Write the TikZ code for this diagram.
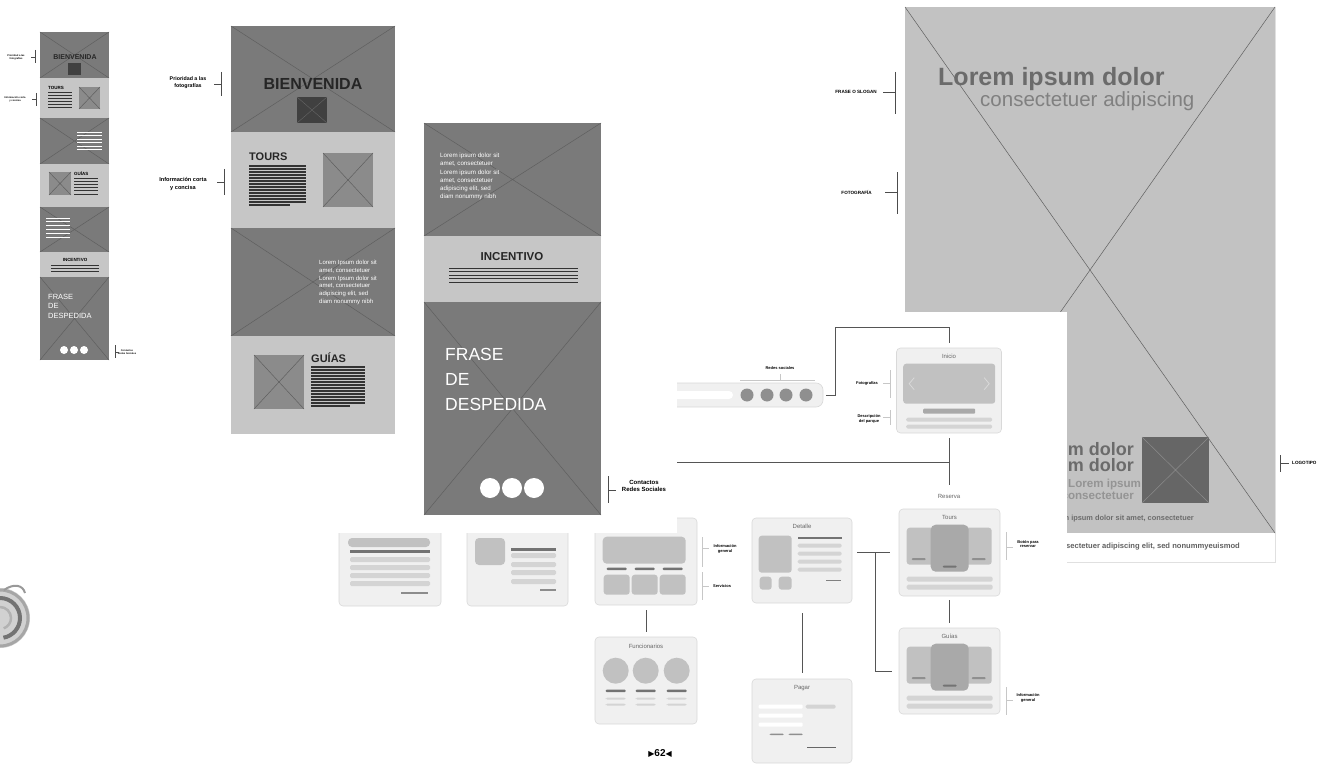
\documentclass[tikz,border=0pt]{standalone}
\usepackage{fontspec}
\setmainfont{Liberation Sans}
\newfontfamily\symfont{DejaVu Sans}
\usepackage{tikz}
\usetikzlibrary{positioning, calc}
\usepackage{xcolor}
\definecolor{mockdark}{HTML}{7A7A7A}
\definecolor{mocklight}{HTML}{C6C6C6}
\definecolor{crossline}{HTML}{5F5F5F}
\definecolor{photo}{HTML}{8B8B8B}
\definecolor{postergray}{HTML}{C2C2C2}
\definecolor{cardfill}{HTML}{F0F0F0}
\definecolor{cardedge}{HTML}{D9D9D9}
\definecolor{barlight}{HTML}{D4D4D4}
\definecolor{bardark}{HTML}{8F8F8F}
\definecolor{panel}{HTML}{C1C1C1}
\definecolor{panelmid}{HTML}{A9A9A9}
\definecolor{linkgray}{HTML}{555555}

\newcommand{\fsz}[2]{\fontsize{#1}{#2}\selectfont}
% placeholder box with a cross
\newcommand{\xbox}[5]{%
  \fill[#1] (#2,#3) rectangle (#4,#5);
  \draw[crossline, line width=0.5pt] (#2,#3) -- (#4,#5) (#2,#5) -- (#4,#3);}

\begin{document}
\begin{tikzpicture}[
    x=1pt, y=-1pt,
    card/.style={draw=cardedge, fill=cardfill, rounded corners=4pt, line width=0.6pt, inner sep=0pt},
    cardtitle/.style={font=\fsz{6}{7}, text=black!60, inner sep=0pt},
    note/.style={font=\bfseries\fsz{4}{4.8}, align=center, inner sep=0pt},
    bracket/.style={draw=black!70, line width=0.6pt},
    sitebracket/.style={draw=black!22, line width=0.5pt},
    link/.style={draw=linkgray, line width=0.8pt},
    textline/.style={draw=black!80, line width=1.2pt},
    bar/.style={fill=barlight, rounded corners=1.5pt},
    darkbar/.style={fill=bardark, rounded corners=1pt},
    tile/.style={fill=panel, rounded corners=3pt},
]
\useasboundingbox (0,0) rectangle (1320,765);
\fill[white] (0,0) rectangle (1320,765);

% Poster
\fill[white] (905,7) rectangle (1275,562);
\draw[black!12] (905,7) rectangle (1275,562);
\xbox{postergray}{905}{7}{1275}{533}
\node[anchor=base west, font=\bfseries\fsz{25}{25}, text=black!58, inner sep=0pt] (slogan) at (938,86) {Lorem ipsum dolor};
\node[anchor=base west, font=\fsz{20.5}{21}, text=black!50, inner sep=0pt] (subslogan) at (980,107) {consectetuer adipiscing};
\node[anchor=base east, font=\bfseries\fsz{18}{18}, text=black!58, inner sep=0pt] (claimA) at (1134,455) {Lorem ipsum dolor};
\node[anchor=base east, font=\bfseries\fsz{18}{18}, text=black!58, inner sep=0pt] (claimB) at (1134,471) {Lorem ipsum dolor};
\node[anchor=base west, font=\bfseries\fsz{11.6}{12}, text=black!42, inner sep=0pt] (claimC) at (1068,487) {Lorem ipsum};
\node[anchor=base east, font=\bfseries\fsz{11.6}{12}, text=black!42, inner sep=0pt] (claimD) at (1134,499) {consectetuer};
\node[anchor=base east, font=\bfseries\fsz{7.4}{8}, text=black!58, inner sep=0pt] (claimE) at (1194,520) {Lorem ipsum dolor sit amet, consectetuer};
\node[anchor=base east, font=\bfseries\fsz{7.6}{8}, text=black!62, inner sep=0pt] (claimF) at (1240,548) {consectetuer adipiscing elit, sed nonummyeuismod};
\fill[black!60] (1142,437) rectangle (1209,503);
\draw[black!45, line width=0.5pt] (1142,437) -- (1209,503) (1142,503) -- (1209,437);

\node[anchor=east, font=\bfseries\fsz{4.6}{5}, inner sep=0pt] (lblslogan) at (877,92) {FRASE O SLOGAN};
\draw[bracket] (895,72) -- (895,114) (883,92) -- (895,92);
\node[anchor=east, font=\bfseries\fsz{4.6}{5}, inner sep=0pt] (lblfoto) at (872,192) {FOTOGRAFÍA};
\draw[bracket] (897,172) -- (897,214) (885,192) -- (897,192);
\node[anchor=west, font=\bfseries\fsz{4.6}{5}, inner sep=0pt] (lbllogo) at (1292,463) {LOGOTIPO};
\draw[bracket] (1280,455) -- (1280,472) (1280,463) -- (1289,463);

% Site map sheet
\fill[white] (880,312) rectangle (1067,568);

\node[card, rounded corners=7pt, minimum width=190pt, minimum height=24pt] (redes) at (728,395) {};
\fill[white, rounded corners=4pt] (640,391) rectangle (733,399);
\foreach \cx in {747,767,786,806} \fill[bardark] (\cx,395) circle[radius=6.5pt];
\node[note] (redesT) at (780,368) {Redes sociales};
\draw[sitebracket] (740,380) -- (815,380) (780,380) -- (780,374);

\node[card, minimum width=105pt, minimum height=85pt] (inicio) at (949,390.5) {};
\node[cardtitle, below=6pt of inicio.north] (inicioT) {Inicio};
\begin{scope}[shift={(inicio.north west)}]
  \fill[tile] (7,16) rectangle (99,56);
  \draw[black!15, line width=0.8pt] (18,30) -- (13,36) -- (18,42) (88,30) -- (93,36) -- (88,42);
  \fill[panelmid, rounded corners=1pt] (27,61) rectangle (79,66);
  \fill[bar] (10,70) rectangle (96,74);
  \fill[bar] (10,77) rectangle (96,81);
\end{scope}
\node[note] (fotosT) at (867,383) {Fotografías};
\draw[sitebracket] (890,370) -- (890,398) (883,383) -- (890,383);
\node[note] (descT) at (869,419) {Descripción\\del parque};
\draw[sitebracket] (890,410) -- (890,425) (883,417) -- (890,417);

\draw[link] ([xshift=3pt]redes.east) -- ++(9,0) |- ([yshift=20pt]inicio.north) -- ([yshift=5pt]inicio.north);

\node[cardtitle] (reserva) at (949,496) {Reserva};
\coordinate (hub) at (949,462);
\coordinate (cutL) at (600,462);
\draw[link] ($(inicio.south)+(0,5)$) -- ($(reserva.north)+(0,-9)$);
\draw[link] (hub) -- (cutL);

% carousel pages
\node[card, minimum width=101pt, minimum height=87pt] (tours) at (949.5,552.5) {};
\node[cardtitle, below=6pt of tours.north] (toursT) {Tours};
\node[card, minimum width=101pt, minimum height=86pt] (guias) at (949.5,671) {};
\node[cardtitle, below=6pt of guias.north] (guiasT) {Guías};
\foreach \pg in {tours,guias}{
  \begin{scope}[shift={(\pg.north west)}]
    \fill[tile] (8,19) rectangle (36,56);
    \fill[tile] (65,19) rectangle (93,56);
    \fill[panelmid, rounded corners=5pt] (32,16) rectangle (70,63);
    \fill[darkbar] (13,49.5) rectangle (27,51.5);
    \fill[darkbar] (73,49.5) rectangle (87,51.5);
    \fill[black!55, rounded corners=1pt] (44,57) rectangle (58,59);
    \fill[bar] (8,68) rectangle (94,73);
    \fill[bar] (8,76) rectangle (94,81);
  \end{scope}
}
\draw[link] ($(tours.south)+(0,4)$) -- ($(guias.north)+(0,-5)$);
\node[note] (botonT) at (1028,544) {Botón para\\reservar};
\draw[sitebracket] (1006,532) -- (1006,560) (1006,547) -- (1013,547);
\node[note] (infoguiasT) at (1028,698) {Información\\general};
\draw[sitebracket] (1006,687) -- (1006,715) (1006,700) -- (1013,700);

% detail and payment
\node[card, minimum width=100pt, minimum height=85pt] (detalle) at (802,560.5) {};
\node[cardtitle, below=6pt of detalle.north] (detalleT) {Detalle};
\begin{scope}[shift={(detalle.north west)}]
  \fill[tile] (7,18) rectangle (40,55);
  \fill[tile] (8,59) rectangle (20,72);
  \fill[tile] (27,59) rectangle (40,72);
  \fill[black!55] (46,19) rectangle (90,21.5);
  \foreach \yy in {26,34,42,50} \fill[bar] (46,\yy) rectangle (90,\yy+4);
  \fill[black!50] (74,62) rectangle (89,63.5);
\end{scope}
\node[card, minimum width=100pt, minimum height=84pt] (pagar) at (802,721) {};
\node[cardtitle, below=6pt of pagar.north] (pagarT) {Pagar};
\begin{scope}[shift={(pagar.north west)}]
  \foreach \yy in {26,35,44} \fill[white, rounded corners=1pt] (7,\yy) rectangle (51,\yy+4);
  \fill[bar] (54,26) rectangle (84,30);
  \fill[darkbar] (18,55) rectangle (32,56.5);
  \fill[darkbar] (37,55) rectangle (51,56.5);
  \fill[black!60] (55,68) rectangle (84,69.5);
\end{scope}
\draw[link] ($(detalle.east |- tours.west)+(5,0)$) -- ($(tours.west)+(-9,0)$);
\draw[link] ($(detalle.east |- tours.west)+(23,0)$) |- ($(guias.west)+(-7,0)$);
\draw[link] ($(detalle.south)+(0,10)$) -- ($(pagar.north)+(0,-6)$);

% park, staff and the two hidden pages
\node[card, minimum width=102pt, minimum height=95pt] (mapa) at (390,558.5) {};
\fill[tile, rounded corners=4pt] (348,538) rectangle (430,547);
\fill[black!55] (350,550) rectangle (430,552.5);
\foreach \yy in {557,565,573,581} \fill[bar] (350,\yy) rectangle (430,\yy+5);
\fill[black!45] (401,592) rectangle (428,594);
\node[card, minimum width=101pt, minimum height=95pt] (contacto) at (517.5,558.5) {};
\fill[tile, rounded corners=4pt] (475,538) rectangle (505,565);
\fill[black!55] (511,548) rectangle (556,550.5);
\foreach \yy in {553,562,570,579} \fill[bar] (511,\yy) rectangle (556,\yy+5);
\fill[black!45] (540,589) rectangle (556,591);

\node[card, minimum width=102pt, minimum height=87pt] (parque) at (646,561.5) {};
\begin{scope}[shift={(parque.north west)}]
  \fill[tile, rounded corners=4pt] (8,19) rectangle (91,46);
  \foreach \xx in {12,40,68} \fill[black!55, rounded corners=1pt] (\xx,50) rectangle (\xx+20,52.5);
  \foreach \xx in {9,37,65} \fill[tile] (\xx,57) rectangle (\xx+26,77);
\end{scope}
\node[note] (infoparqueT) at (725,549) {Información\\general};
\draw[sitebracket] (702,537) -- (702,567) (702,548) -- (709,548);
\node[note, anchor=west] (serviciosT) at (713,586) {Servicios};
\draw[sitebracket] (702,572) -- (702,600) (702,586) -- (709,586);

\node[card, minimum width=102pt, minimum height=87pt] (funcionarios) at (646,680.5) {};
\node[cardtitle, below=7pt of funcionarios.north] (funcionariosT) {Funcionarios};
\begin{scope}[shift={(funcionarios.north west)}]
  \foreach \xx in {21,51,82} {
    \fill[panel] (\xx,34) circle[radius=13pt];
    \fill[black!55, rounded corners=1pt] (\xx-10,53) rectangle (\xx+10,55.5);
    \fill[bar] (\xx-10,61) rectangle (\xx+10,63);
    \fill[bar] (\xx-10,67) rectangle (\xx+10,69);
  }
\end{scope}
\draw[link] ($(parque.south)+(0,5)$) -- ($(funcionarios.north)+(0,-5)$);

\node[font=\bfseries\fsz{10}{10}, inner sep=0pt] (pagina) at (660,753) {{\symfont\fsz{8}{8}▶}62{\symfont\fsz{8}{8}◀}};

% Third screen
\fill[white] (404,100) rectangle (677,533);
\fill[white] (335,508) rectangle (677,533);
\xbox{mockdark}{424}{123}{601}{236}
\fill[mocklight] (424,236) rectangle (601,302);
\xbox{mockdark}{424}{302}{601}{515}
\node[anchor=north west, align=left, text=white, font=\fsz{6.2}{8.2}, inner sep=0pt] (lorem3) at (440,153) {Lorem ipsum dolor sit\\amet, consectetuer\\Lorem ipsum dolor sit\\amet, consectetuer\\adipiscing elit, sed\\diam nonummy nibh};
\node[font=\bfseries\fsz{11.5}{12}, text=black!85, inner sep=0pt] (incentivo3) at (512,257) {INCENTIVO};
\foreach \k in {0,...,4} \draw[textline, line width=1pt] (449,{268+3.5*\k}) -- (578,{268+3.5*\k});
\node[anchor=north west, align=left, text=white, font=\fsz{17.5}{25}, inner sep=0pt] (despedida3) at (445,348) {FRASE\\DE\\DESPEDIDA};
\foreach \cx in {490,512,534} \fill[white] (\cx,488) circle[radius=10pt];
\node[font=\bfseries\fsz{6}{7.2}, align=center, inner sep=0pt] (contactos3) at (644,486) {Contactos\\Redes Sociales};
\draw[bracket] (608,476) -- (608,503) (608,490) -- (616,490);

% Second screen
\xbox{mockdark}{231}{26}{395}{132}
\fill[mocklight] (231,132) rectangle (395,228);
\xbox{mockdark}{231}{228}{395}{336}
\fill[mocklight] (231,336) rectangle (395,434);
\node[font=\bfseries\fsz{16}{16}, text=black!85, inner sep=0pt] (bienvenida2) at (313,84) {BIENVENIDA};
\fill[black!75] (297,97) rectangle (327,123);
\draw[black!60, line width=0.4pt] (297,97) -- (327,123) (297,123) -- (327,97);
\node[anchor=west, font=\bfseries\fsz{11}{11}, text=black!85, inner sep=0pt] (tours2) at (249,157) {TOURS};
\foreach \k in {0,...,12} \draw[textline] (249,{166+3*\k}) -- (306,{166+3*\k});
\draw[textline] (249,205) -- (290,205);
\xbox{photo}{323}{153}{373}{207}
\node[anchor=north west, align=left, text=white, font=\fsz{6}{7.8}, inner sep=0pt] (lorem2) at (319,260) {Lorem Ipsum dolor sit\\amet, consectetuer\\Lorem Ipsum dolor sit\\amet, consectetuer\\adipiscing elit, sed\\diam nonummy nibh};
\xbox{photo}{254}{355}{304}{409}
\node[anchor=west, font=\bfseries\fsz{11}{11}, text=black!85, inner sep=0pt] (guias2) at (311,358) {GUÍAS};
\foreach \k in {0,...,12} \draw[textline] (311,{367+3*\k}) -- (365,{367+3*\k});
\draw[textline] (311,406) -- (350,406);
\node[font=\bfseries\fsz{5.3}{7}, align=center, inner sep=0pt] (prioridad2) at (188,83) {Prioridad a las\\fotografías};
\draw[bracket] (221,72) -- (221,96) (214,84) -- (221,84);
\node[font=\bfseries\fsz{5.6}{7.4}, align=center, inner sep=0pt] (concisa2) at (183,184) {Información corta\\y concisa};
\draw[bracket] (224,169) -- (224,195) (217,182) -- (224,182);

% First screen, small
\xbox{mockdark}{40}{32}{109}{78}
\fill[mocklight] (40,78) rectangle (109,118);
\xbox{mockdark}{40}{118}{109}{164}
\fill[mocklight] (40,164) rectangle (109,207);
\xbox{mockdark}{40}{207}{109}{252}
\fill[mocklight] (40,252) rectangle (109,277);
\xbox{mockdark}{40}{277}{109}{360}
\node[font=\bfseries\fsz{7}{7}, text=black!85, inner sep=0pt] (bienvenida1) at (75,57) {BIENVENIDA};
\fill[black!75] (68,63) rectangle (81,75);
\node[anchor=west, font=\bfseries\fsz{4.5}{5}, inner sep=0pt] (tours1) at (48,88) {TOURS};
\foreach \k in {0,...,5} \draw[textline, line width=0.9pt] (48,{92+3*\k}) -- (72,{92+3*\k});
\xbox{photo}{79}{87}{100}{109}
\foreach \k in {0,...,5} \draw[white, line width=0.9pt] (77,{132+3.5*\k}) -- (102,{132+3.5*\k});
\xbox{photo}{49}{172}{71}{195}
\node[anchor=west, font=\bfseries\fsz{4.5}{5}, inner sep=0pt] (guias1) at (74,174) {GUÍAS};
\foreach \k in {0,...,5} \draw[textline, line width=0.9pt] (74,{178+3.2*\k}) -- (98,{178+3.2*\k});
\foreach \k in {0,...,5} \draw[white, line width=0.9pt] (46,{218+3.8*\k}) -- (70,{218+3.8*\k});
\node[font=\bfseries\fsz{4.5}{5}, inner sep=0pt] (incentivo1) at (75,260) {INCENTIVO};
\foreach \k in {0,1,2} \draw[textline, line width=0.9pt] (51,{265+3*\k}) -- (99,{265+3*\k});
\node[anchor=north west, align=left, text=white, font=\fsz{7.5}{9.5}, inner sep=0pt] (despedida1) at (48,294) {FRASE\\DE\\DESPEDIDA};
\foreach \cx in {64,74,84} \fill[white] (\cx,350) circle[radius=4pt];
\node[font=\bfseries\fsz{2.5}{3}, align=center, inner sep=0pt] (prioridad1) at (16,57) {Prioridad a las\\fotografías};
\draw[bracket, line width=0.4pt] (35,50) -- (35,63) (31,57) -- (35,57);
\node[font=\bfseries\fsz{2.5}{3}, align=center, inner sep=0pt] (concisa1) at (15,99) {Información corta\\y concisa};
\draw[bracket, line width=0.4pt] (36,93) -- (36,106) (32,99) -- (36,99);
\node[font=\bfseries\fsz{2.5}{3}, align=center, inner sep=0pt] (contactos1) at (127,352) {Contactos\\Redes Sociales};
\draw[bracket, line width=0.4pt] (115,345) -- (115,358) (115,352) -- (119,352);

% ornament at the left edge
\fill[black!18] (0,588) arc[start angle=90, end angle=-90, radius=30pt] -- cycle;
\draw[black!35, line width=3pt] (0,590) arc[start angle=90, end angle=-90, radius=28pt];
\draw[black!55, line width=4pt] (0,598) arc[start angle=90, end angle=-80, radius=20pt];
\draw[black!30, line width=2.5pt] (0,607) arc[start angle=90, end angle=-70, radius=11pt];
\draw[black!40, line width=2pt] (4,590) .. controls (14,583) and (23,585) .. (25,593);
\end{tikzpicture}
\end{document}
